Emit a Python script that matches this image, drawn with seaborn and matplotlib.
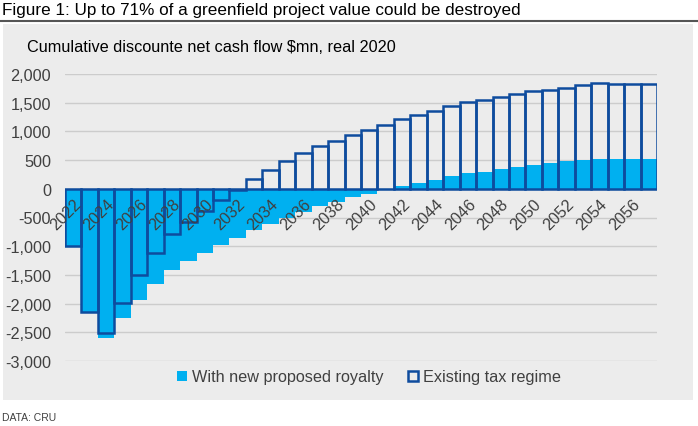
import numpy as np
import pandas as pd
import seaborn as sns
import matplotlib.pyplot as plt
import matplotlib.transforms as mtransforms
from matplotlib.patches import Rectangle, Patch

# Values ($mn, real 2020)
years = list(range(2022, 2058))
existing_regime = [-1000, -2155, -2520, -1985, -1510, -1110, -783, -580, -385, -190,
                   -15, 165, 325, 490, 615, 750, 835, 935, 1030, 1118,
                   1215, 1292, 1362, 1437, 1506, 1541, 1599, 1651, 1703, 1727,
                   1761, 1813, 1836, 1831, 1825, 1825]
new_royalty = [-1000, -2155, -2600, -2250, -1930, -1658, -1415, -1260, -1118, -985,
               -860, -725, -609, -505, -406, -295, -232, -150, -87, -15,
               46, 98, 162, 220, 272, 301, 348, 388, 417, 452,
               487, 510, 527, 527, 527, 527]
y_ticks = list(range(-3000, 2001, 500))

df = pd.DataFrame({'Year': [str(y) for y in years],
                   'Existing': existing_regime,
                   'Royalty': new_royalty})

light_blue = '#00b0f0'
dark_blue = '#0e4c9e'
panel_grey = '#ececec'
text_grey = '#404040'

sns.set_style('white')
plt.rcParams['font.family'] = ['Liberation Sans', 'DejaVu Sans']

fig = plt.figure(figsize=(6.98, 4.27), dpi=100)
W, H = 698, 427

# grey panel behind the chart
panel = Rectangle((3 / W, 1 - 401 / H), 690 / W, 376 / H, transform=fig.transFigure,
                  facecolor=panel_grey, edgecolor='none', zorder=-5)
fig.add_artist(panel)
# title and rule
fig.text(2 / W, 1 - 11 / H, 'Figure 1: Up to 71% of a greenfield project value could be destroyed',
         fontsize=12.3, color='black', va='center', ha='left')
fig.add_artist(plt.Line2D([0, 1], [1 - 21.5 / H, 1 - 21.5 / H], transform=fig.transFigure,
                          color='#555555', linewidth=1.5))
fig.text(27 / W, 1 - 47 / H, 'Cumulative discounte net cash flow $mn, real 2020',
         fontsize=11.7, color='black', va='center', ha='left')
fig.text(2 / W, 1 - 418 / H, 'DATA: CRU', fontsize=7.5, color='#404040', va='center', ha='left')

ax = fig.add_axes([65 / W, 1 - 362 / H, 592 / W, 287 / H])
ax.set_zorder(2)
ax.set_facecolor('none')

sns.barplot(data=df, x='Year', y='Royalty', color=light_blue, width=1.0,
            saturation=1, linewidth=0, ax=ax, zorder=2)
sns.barplot(data=df, x='Year', y='Existing', fill=False, width=1.0,
            edgecolor=dark_blue, linewidth=1.8, ax=ax, zorder=3)

# x axis sits on the zero line (set before the tick labels, it resets ticks)
ax.spines['bottom'].set_position(('data', 0))
for s in ax.spines.values():
    s.set_visible(False)

ax.set_ylim(-3000, 2000)
ax.set_xlim(-0.5, len(years) - 0.5)
ax.set_yticks(y_ticks)
ax.set_yticklabels([f'{v:,}' for v in y_ticks], fontsize=11.7, color=text_grey)
ax.yaxis.grid(True, color='#cccccc', linewidth=1)
ax.set_axisbelow(True)

ax.set_xticks(range(0, len(years), 2))
ax.set_xticklabels([str(y) for y in years[::2]], rotation=45, ha='right', va='top',
                   rotation_mode='anchor', fontsize=11.7, color=text_grey)
shift = mtransforms.ScaledTranslation(-3 / 100, 0, fig.dpi_scale_trans)
for lbl in ax.get_xticklabels():
    lbl.set_transform(lbl.get_transform() + shift)
ax.xaxis.set_zorder(5)
ax.tick_params(axis='both', length=0)
ax.tick_params(axis='x', pad=5)
ax.tick_params(axis='y', pad=10)
ax.set_xlabel('')
ax.set_ylabel('')

handles = [Patch(facecolor=light_blue, edgecolor='none', label='With new proposed royalty'),
           Patch(facecolor='none', edgecolor=dark_blue, linewidth=1.8, label='Existing tax regime')]
fig.legend(handles=handles, loc='center', bbox_to_anchor=(369 / W, 1 - 378 / H), ncol=2,
           frameon=False, fontsize=11.7, handlelength=0.6, handleheight=0.6,
           handletextpad=0.3, columnspacing=1.5, labelcolor=text_grey)

fig.savefig('out.png', dpi=100)
